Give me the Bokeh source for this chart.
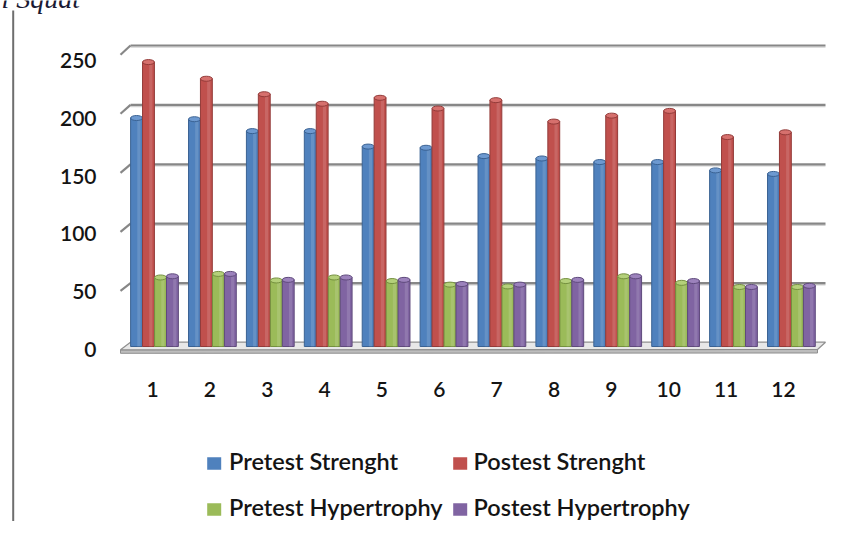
import numpy as np
from bokeh.plotting import figure
from bokeh.models import Range1d, ColumnDataSource
from bokeh.embed import file_html
from bokeh.resources import INLINE
from bokeh.core.properties import value

# ---------------- data ----------------
subjects = [1, 2, 3, 4, 5, 6, 7, 8, 9, 10, 11, 12]
pretest_strength = [192, 191, 181, 181, 168, 167, 160, 158, 155, 155, 148, 145]
postest_strength = [239, 225, 212, 204, 209, 200, 207, 189, 194, 198, 176, 180]
pretest_hypertrophy = [58, 61, 55.5, 58, 55, 52, 50.5, 55, 59, 53.5, 50, 50]
postest_hypertrophy = [59, 61, 56, 58, 56, 52.5, 52, 56, 59, 55, 50, 51]
series_names = ["Pretest Strenght", "Postest Strenght",
                "Pretest Hypertrophy", "Postest Hypertrophy"]
y_ticks = [0, 50, 100, 150, 200, 250]
x_tick_labels = [str(s) for s in subjects]

# ---------------- styling / layout ----------------
fills = ["#4F81BD", "#C0504D", "#9BBB59", "#8064A2"]
edges = ["#3A6293", "#933B39", "#74903F", "#5F4A7C"]
caps = ["#6D99D0", "#D6706D", "#B4D07A", "#9C82BC"]
FONT = "Lato Semibold"
TXT = "#141414"

W, H = 843, 521
pxu_x = 57.9            # pixels per category step
pxu_y = 1.19            # pixels per unit of value
x_start = 1 - 154 / pxu_x
x_end = x_start + W / pxu_x
y_end = 346 / pxu_y      # value 0 sits 346 px below the top
y_start = y_end - H / pxu_y


def X(px):
    return x_start + np.asarray(px, dtype=float) / pxu_x


def Y(py):
    return y_end - np.asarray(py, dtype=float) / pxu_y


p = figure(width=W, height=H, output_backend="svg", toolbar_location=None,
           x_range=Range1d(x_start, x_end), y_range=Range1d(y_start, y_end),
           min_border=0, x_axis_location=None, y_axis_location=None)
p.grid.visible = False
p.outline_line_color = None
p.background_fill_color = "white"
p.border_fill_color = "white"

# ---------------- 3D walls ----------------
tv = np.array(y_ticks, dtype=float)
back_y = 342 - tv * 1.188      # back wall (pixels)
front_y = 349.3 - tv * 1.18    # front edge of side wall (pixels)
back_l, back_r, front_l, front_r = 130, 825, 120, 817

# floor slab
p.patch(X([front_l, front_r, front_r, front_l]), Y([349.3, 349, 352.5, 352.8]),
        fill_color="#bdbdbd", line_color="#8f8f8f", line_width=1)
p.patch(X([front_l, front_r, back_r, back_l]), Y([349.3, 349, 341.7, 341.7]),
        fill_color="#e8e8e8", line_color="#8f8f8f", line_width=1.2)

g = slice(1, None)
p.segment(x0=X([back_l] * 5), y0=Y(back_y[g] + 1.6), x1=X([back_r] * 5), y1=Y(back_y[g] + 1.6),
          line_color="#d2d2d2", line_width=1.4)
p.segment(x0=X([back_l] * 5), y0=Y(back_y[g]), x1=X([back_r] * 5), y1=Y(back_y[g]),
          line_color="#878787", line_width=2.2)
p.segment(x0=X([front_l] * 5), y0=Y(front_y[g]), x1=X([back_l] * 5), y1=Y(back_y[g]),
          line_color="#878787", line_width=2.2)

# ---------------- bars ----------------
series = [pretest_strength, postest_strength, pretest_hypertrophy, postest_hypertrophy]
offsets = [-0.31, -0.104, 0.104, 0.31]
bw = 0.205
for name, vals, off, fc, ec, cc in zip(series_names, series, offsets, fills, edges, caps):
    xs = np.array(subjects, dtype=float) + off
    src = ColumnDataSource(dict(x=xs, top=vals))
    p.vbar(x="x", top="top", bottom=0, width=bw, source=src,
           fill_color=fc, line_color=ec, line_width=1)
    p.vbar(x=xs + 0.04, top=vals, bottom=0, width=0.055,
           fill_color="white", fill_alpha=0.13, line_color=None)
    p.ellipse(x="x", y="top", width=bw, height=5, height_units="screen",
              source=src, fill_color=cc, line_color=ec, line_width=1)

# ---------------- tick labels ----------------
p.text(x=X([96] * len(y_ticks)), y=Y(349 - tv * 1.156), text=[str(v) for v in y_ticks],
       text_align="right", text_baseline="middle", text_font=value(FONT),
       text_font_size="21px", text_color=TXT)
p.text(x=X(152 + (np.array(subjects) - 1) * 57.36), y=Y([389] * len(subjects)),
       text=x_tick_labels, text_align="center", text_baseline="middle",
       text_font=value(FONT), text_font_size="21px", text_color=TXT)

# ---------------- legend ----------------
leg_sq_x = [213.7, 459.7, 213.7, 459.7]
leg_sq_y = [463, 463, 509, 509]
leg_tx_x = [228.5, 473, 228.5, 473]
leg_tx_y = [460.5, 460.5, 506.5, 506.5]
p.rect(x=X(leg_sq_x), y=Y(leg_sq_y), width=14, height=12.5, width_units="screen",
       height_units="screen", fill_color=fills, line_color=None)
p.text(x=X(leg_tx_x), y=Y(leg_tx_y), text=series_names, text_align="left",
       text_baseline="middle", text_font=value(FONT), text_font_size="23.5px",
       text_color=TXT)

# ---------------- page fragments ----------------
p.segment(x0=X([12.7]), y0=Y([10]), x1=X([12.7]), y1=Y([H]), line_color="#6e6e6e",
          line_width=2)
p.text(x=X([1]), y=Y([-2.5]), text=["l Squat"], text_align="left", text_baseline="middle",
       text_font=value("Liberation Serif"), text_font_style="italic",
       text_font_size="28px", text_color="#1a1a33")

open("out.html", "w").write(file_html(p, INLINE))
